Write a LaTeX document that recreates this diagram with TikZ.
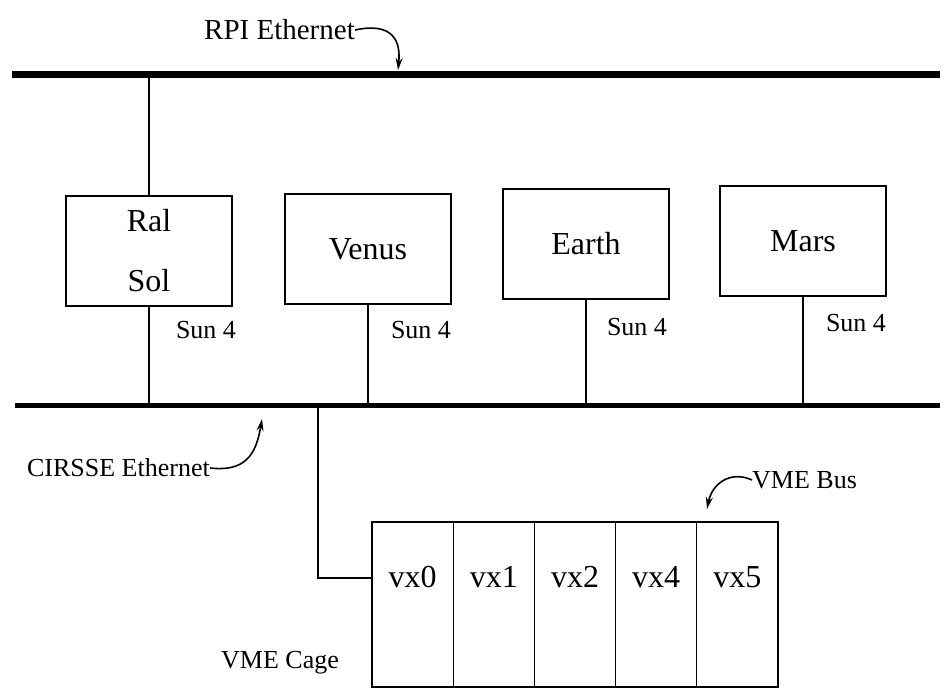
\documentclass[tikz,border=0pt]{standalone}
\usepackage{fontspec}
\setmainfont{Liberation Serif}
\usetikzlibrary{arrows.meta}
\begin{document}
\begin{tikzpicture}[x=1pt,y=-1pt,
  host/.style={draw,line width=1.2pt,inner sep=0pt,minimum width=166pt,minimum height=110pt,font=\fontsize{32}{60}\selectfont,align=center},
  cell/.style={draw,line width=1.2pt,inner sep=0pt,outer sep=0pt,minimum width=81.2pt,minimum height=165pt,anchor=west},
  cellname/.style={font=\fontsize{32}{36}\selectfont},
  small/.style={font=\fontsize{26}{30}\selectfont},
  wire/.style={line width=2pt},
  callout/.style={line width=1.6pt,-{Stealth[length=12pt,width=7pt]}}]
\useasboundingbox (0,0) rectangle (945,698);
% buses
\coordinate (t1) at (12,75); \coordinate (t2) at (940,75);
\coordinate (b1) at (15,405); \coordinate (b2) at (940,405);
\draw[line width=7pt] (t1) -- (t2);
\draw[line width=5pt] (b1) -- (b2);
% hosts
\node[host] (ral) at (149,251) {Ral\\Sol};
\node[host] (venus) at (368,249) {Venus};
\node[host] (earth) at (586,244) {Earth};
\node[host] (mars) at (803,241) {Mars};
\draw[wire] (ral.north) -- (ral.north |- t1);
\foreach \h in {ral,venus,earth,mars} \draw[wire] (\h.south) -- (\h.south |- b1);
\node[small] (s1) at (206,330) {Sun 4};
\node[small] (s2) at (421,330) {Sun 4};
\node[small] (s3) at (637,327) {Sun 4};
\node[small] (s4) at (856,323) {Sun 4};
% labels with callouts
\node[font=\fontsize{29}{32}\selectfont,anchor=east,inner sep=0pt] (rpi) at (355,30) {RPI Ethernet};
\coordinate (rpit) at (398,70);
\draw[callout] (rpi.east) .. controls (392,22) and (401,40) .. (rpit);
\node[small,anchor=east,inner sep=0pt] (cir) at (210,468) {CIRSSE Ethernet};
\coordinate (cirt) at (262,419);
\draw[callout] (cir.east) .. controls (245,472) and (256,455) .. (cirt);
% VME cage
\node[cell] (c0) at (372,604.5) {};
\node[cell] (c1) at (c0.east) {};
\node[cell] (c2) at (c1.east) {};
\node[cell] (c3) at (c2.east) {};
\node[cell] (c4) at (c3.east) {};
\node[cellname] (n0) at ([yshift=27pt]c0.center) {vx0};
\node[cellname] (n1) at ([yshift=27pt]c1.center) {vx1};
\node[cellname] (n2) at ([yshift=27pt]c2.center) {vx2};
\node[cellname] (n3) at ([yshift=27pt]c3.center) {vx4};
\node[cellname] (n4) at ([yshift=27pt]c4.center) {vx5};
\coordinate (tap) at (318,405);
\draw[wire] (tap) |- ([yshift=27pt]c0.west);
\node[small] (cage) at (280,663) {VME Cage};
\node[small,anchor=west,inner sep=0pt] (vmebus) at (752,480) {VME Bus};
\coordinate (vmet) at (707,509);
\draw[callout] (vmebus.west) .. controls (730,470) and (712,484) .. (vmet);
\end{tikzpicture}
\end{document}
